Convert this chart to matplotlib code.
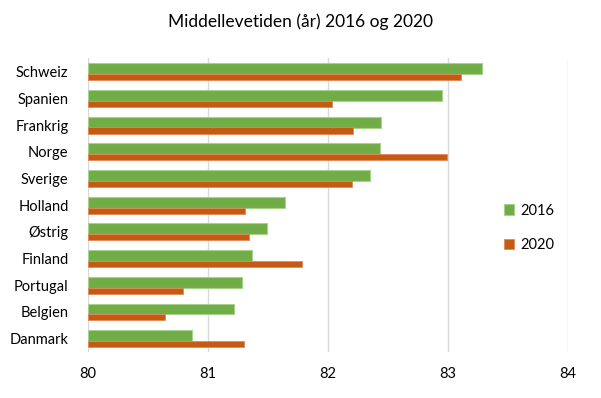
import matplotlib.pyplot as plt
import numpy as np

plt.rcParams['font.family'] = ['Lato', 'DejaVu Sans']

lande = ['Schweiz', 'Spanien', 'Frankrig', 'Norge', 'Sverige', 'Holland',
         'Østrig', 'Finland', 'Portugal', 'Belgien', 'Danmark']
levetid_2016 = [83.28, 82.95, 82.44, 82.43, 82.35, 81.64, 81.49, 81.37, 81.28, 81.22, 80.87]
levetid_2020 = [83.11, 82.03, 82.21, 82.99, 82.20, 81.31, 81.34, 81.78, 80.79, 80.64, 81.30]
xticks = [80, 81, 82, 83, 84]

fig = plt.figure(figsize=(6.01, 3.98), dpi=100)
ax = fig.add_axes([0.1464, 0.1156, 0.7986, 0.738])

y = np.arange(len(lande))
base = 80
ax.barh(y - 0.11, np.array(levetid_2016) - base, left=base, height=0.41,
        color='#70AD47', edgecolor='#A9D18E', linewidth=0.8, label='2016', zorder=3)
ax.barh(y + 0.205, np.array(levetid_2020) - base, left=base, height=0.225,
        color='#C55A11', edgecolor='#E0885A', linewidth=0.6, label='2020', zorder=3)

ax.set_ylim(len(lande) - 0.5, -0.5)
ax.set_xlim(80, 84)
ax.set_xticks(xticks)
ax.set_yticks(y)
ax.set_yticklabels(lande)
ax.tick_params(axis='both', length=0, labelsize=10.5, colors='#000000')
ax.tick_params(axis='y', pad=14)
ax.tick_params(axis='x', pad=11)
ax.grid(axis='x', color='#D9D9D9', linewidth=1, zorder=0)
for s in ax.spines.values():
    s.set_visible(False)

fig.text(0.5, 0.945, 'Middellevetiden (år) 2016 og 2020', ha='center', va='center',
         fontsize=12.5)

ax.legend(loc='center left', bbox_to_anchor=(0.855, 0.423), frameon=False,
          fontsize=10.5, handlelength=0.7, handleheight=0.7, handletextpad=0.4,
          labelspacing=1.4, borderaxespad=0)

fig.savefig('out.png', dpi=100)
